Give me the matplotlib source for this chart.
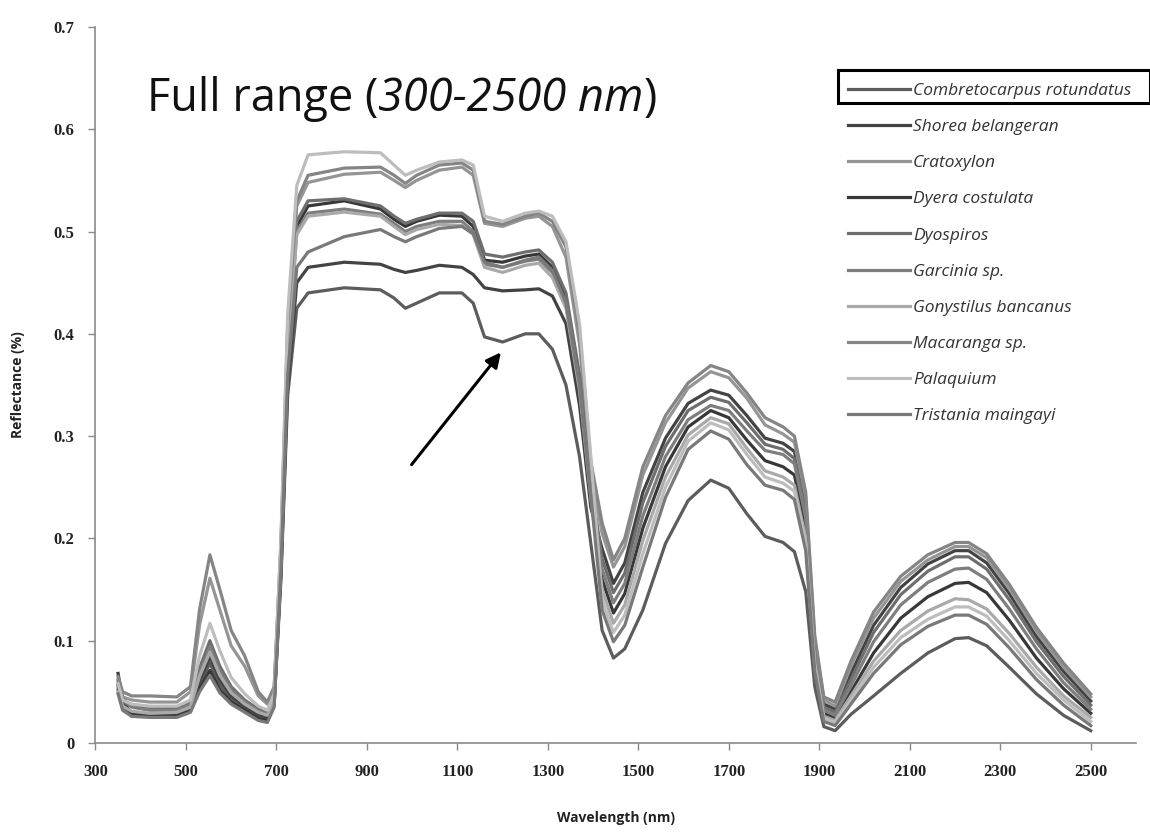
import matplotlib
matplotlib.use("Agg")
import matplotlib.pyplot as plt
from matplotlib.patches import Rectangle
from matplotlib.offsetbox import TextArea, HPacker, AnnotationBbox

# wavelength grid (nm) shared by all spectra
wavelength = [350, 360, 380, 420, 480, 510, 530, 553, 575, 600, 630, 660, 680, 695,
              710, 725, 745, 770, 850, 930, 960, 985, 1010, 1060, 1110, 1135, 1160, 1200,
              1250, 1280, 1310, 1340, 1370, 1395,
              1420, 1445, 1470, 1510, 1560, 1610, 1660, 1700, 1740, 1780, 1820, 1845, 1870,
              1890, 1910, 1935, 1970, 2020, 2080, 2140, 2200, 2230, 2270, 2320, 2380, 2440, 2500]

combretocarpus = [0.052, 0.035, 0.029, 0.027, 0.027, 0.032, 0.057, 0.078, 0.057, 0.043, 0.034, 0.026, 0.023, 0.038,
                  0.16, 0.34, 0.425, 0.44, 0.445, 0.443, 0.435, 0.425, 0.43, 0.44, 0.44, 0.43, 0.397, 0.392,
                  0.40, 0.40, 0.385, 0.35, 0.28, 0.195,
                  0.11, 0.083, 0.092, 0.13, 0.195, 0.237, 0.257, 0.249, 0.224, 0.202, 0.196, 0.187, 0.148,
                  0.055, 0.016, 0.012, 0.028, 0.046, 0.068, 0.088, 0.102, 0.103, 0.095, 0.074, 0.048, 0.027, 0.012]
shorea = [0.057, 0.038, 0.03, 0.028, 0.028, 0.033, 0.061, 0.084, 0.062, 0.046, 0.036, 0.028, 0.025, 0.04,
          0.165, 0.35, 0.45, 0.465, 0.47, 0.468, 0.463, 0.46, 0.462, 0.467, 0.465, 0.458, 0.445, 0.442,
          0.443, 0.444, 0.437, 0.41, 0.33, 0.23,
          0.19, 0.156, 0.176, 0.245, 0.298, 0.332, 0.345, 0.34, 0.32, 0.298, 0.293, 0.285, 0.232,
          0.095, 0.038, 0.033, 0.068, 0.115, 0.152, 0.175, 0.188, 0.188, 0.176, 0.146, 0.104, 0.07, 0.041]
cratoxylon = [0.06, 0.045, 0.042, 0.04, 0.04, 0.05, 0.115, 0.161, 0.13, 0.095, 0.075, 0.046, 0.038, 0.052,
              0.19, 0.405, 0.525, 0.548, 0.556, 0.558, 0.55, 0.543, 0.55, 0.56, 0.563, 0.555, 0.508, 0.505,
              0.513, 0.515, 0.505, 0.475, 0.39, 0.268,
              0.205, 0.172, 0.192, 0.262, 0.313, 0.347, 0.363, 0.357, 0.337, 0.311, 0.302, 0.294, 0.24,
              0.1, 0.042, 0.036, 0.075, 0.122, 0.158, 0.179, 0.192, 0.192, 0.181, 0.151, 0.109, 0.074, 0.045]
dyera = [0.068, 0.042, 0.028, 0.026, 0.026, 0.031, 0.053, 0.071, 0.052, 0.04, 0.032, 0.024, 0.022, 0.037,
         0.183, 0.385, 0.505, 0.525, 0.53, 0.522, 0.512, 0.505, 0.51, 0.516, 0.515, 0.505, 0.472, 0.47,
         0.476, 0.478, 0.465, 0.435, 0.355, 0.25,
         0.16, 0.127, 0.146, 0.21, 0.27, 0.309, 0.325, 0.318, 0.296, 0.276, 0.27, 0.262, 0.21,
         0.082, 0.029, 0.024, 0.05, 0.088, 0.122, 0.143, 0.156, 0.157, 0.147, 0.12, 0.083, 0.053, 0.029]
dyospiros = [0.055, 0.04, 0.036, 0.034, 0.034, 0.04, 0.073, 0.10, 0.075, 0.055, 0.042, 0.033, 0.03, 0.045,
             0.185, 0.39, 0.51, 0.53, 0.532, 0.525, 0.515, 0.508, 0.512, 0.518, 0.518, 0.51, 0.478, 0.475,
             0.48, 0.482, 0.47, 0.44, 0.36, 0.255,
             0.18, 0.147, 0.166, 0.235, 0.29, 0.325, 0.338, 0.333, 0.313, 0.292, 0.287, 0.278, 0.226,
             0.09, 0.035, 0.03, 0.062, 0.108, 0.145, 0.168, 0.182, 0.182, 0.17, 0.14, 0.099, 0.065, 0.037]
garcinia = [0.062, 0.044, 0.035, 0.032, 0.032, 0.038, 0.068, 0.094, 0.07, 0.052, 0.04, 0.031, 0.028, 0.043,
            0.18, 0.38, 0.5, 0.518, 0.522, 0.517, 0.508, 0.5, 0.505, 0.51, 0.51, 0.5, 0.468, 0.465,
            0.471, 0.473, 0.46, 0.43, 0.35, 0.245,
            0.17, 0.137, 0.156, 0.222, 0.28, 0.316, 0.33, 0.325, 0.305, 0.286, 0.282, 0.273, 0.22,
            0.087, 0.032, 0.027, 0.056, 0.099, 0.135, 0.157, 0.17, 0.171, 0.16, 0.131, 0.092, 0.059, 0.033]
gonystilus = [0.05, 0.036, 0.031, 0.029, 0.03, 0.035, 0.065, 0.089, 0.066, 0.049, 0.038, 0.03, 0.027, 0.042,
              0.178, 0.378, 0.497, 0.515, 0.519, 0.515, 0.505, 0.497, 0.502, 0.507, 0.506, 0.497, 0.465, 0.46,
              0.467, 0.469, 0.455, 0.425, 0.345, 0.24,
              0.15, 0.117, 0.135, 0.198, 0.26, 0.301, 0.318, 0.312, 0.288, 0.266, 0.26, 0.252, 0.2,
              0.078, 0.026, 0.022, 0.046, 0.08, 0.11, 0.129, 0.141, 0.14, 0.131, 0.107, 0.074, 0.046, 0.025]
macaranga = [0.065, 0.05, 0.046, 0.046, 0.045, 0.055, 0.13, 0.184, 0.15, 0.11, 0.085, 0.05, 0.04, 0.055,
             0.195, 0.41, 0.53, 0.555, 0.562, 0.563, 0.555, 0.547, 0.555, 0.565, 0.567, 0.56, 0.51, 0.507,
             0.515, 0.518, 0.51, 0.485, 0.40, 0.275,
             0.215, 0.179, 0.2, 0.27, 0.32, 0.352, 0.369, 0.363, 0.342, 0.318, 0.309, 0.3, 0.245,
             0.105, 0.045, 0.04, 0.08, 0.128, 0.163, 0.184, 0.196, 0.196, 0.185, 0.155, 0.113, 0.078, 0.048]
palaquium = [0.058, 0.042, 0.038, 0.036, 0.036, 0.042, 0.085, 0.117, 0.09, 0.064, 0.048, 0.036, 0.032, 0.048,
             0.2, 0.42, 0.545, 0.575, 0.578, 0.577, 0.565, 0.555, 0.56, 0.568, 0.57, 0.565, 0.515, 0.51,
             0.518, 0.52, 0.515, 0.49, 0.41, 0.28,
             0.14, 0.108, 0.125, 0.185, 0.25, 0.295, 0.313, 0.306, 0.282, 0.26, 0.254, 0.246, 0.195,
             0.075, 0.024, 0.02, 0.042, 0.074, 0.103, 0.121, 0.133, 0.133, 0.124, 0.1, 0.068, 0.042, 0.021]
tristania = [0.048, 0.032, 0.026, 0.025, 0.025, 0.03, 0.05, 0.066, 0.049, 0.038, 0.03, 0.022, 0.02, 0.035,
             0.17, 0.36, 0.465, 0.48, 0.495, 0.502, 0.495, 0.49, 0.495, 0.503, 0.505, 0.498, 0.47, 0.465,
             0.472, 0.475, 0.462, 0.43, 0.35, 0.242,
             0.13, 0.099, 0.115, 0.172, 0.24, 0.287, 0.305, 0.297, 0.272, 0.252, 0.247, 0.238, 0.188,
             0.07, 0.021, 0.017, 0.038, 0.068, 0.096, 0.114, 0.125, 0.125, 0.116, 0.093, 0.062, 0.037, 0.017]

species = ["Combretocarpus rotundatus", "Shorea belangeran", "Cratoxylon", "Dyera costulata",
           "Dyospiros", "Garcinia sp.", "Gonystilus bancanus", "Macaranga sp.", "Palaquium",
           "Tristania maingayi"]
spectra = [combretocarpus, shorea, cratoxylon, dyera, dyospiros, garcinia, gonystilus,
           macaranga, palaquium, tristania]
colors = ["#5c5c5c", "#434343", "#959595", "#383838", "#6e6e6e", "#7e7e7e", "#a9a9a9",
          "#858585", "#bdbdbd", "#797979"]

y_ticks = [0, 0.1, 0.2, 0.3, 0.4, 0.5, 0.6, 0.7]
y_ticklabels = ["0", "0.1", "0.2", "0.3", "0.4", "0.5", "0.6", "0.7"]
x_ticks = list(range(300, 2501, 200))

fig = plt.figure(figsize=(11.5, 8.32), dpi=100)
ax = fig.add_axes([0.083, 0.107, 0.9048, 0.8606])

for name, vals, c in zip(species, spectra, colors):
    ax.plot(wavelength, vals, color=c, lw=2.3, label=name, solid_joinstyle="round")

ax.set_xlim(300, 2600)
ax.set_ylim(0, 0.7)
ax.set_xticks(x_ticks)
ax.set_yticks(y_ticks)
ax.set_yticklabels(y_ticklabels)
for lab in ax.get_xticklabels() + ax.get_yticklabels():
    lab.set_fontfamily("Liberation Serif")
    lab.set_fontweight("bold")
    lab.set_fontsize(12)
    lab.set_color("#222222")
ax.tick_params(direction="out", length=5, width=1, color="#8a8a8a", pad=10)
for s in ["top", "right"]:
    ax.spines[s].set_visible(False)
for s in ["left", "bottom"]:
    ax.spines[s].set_color("#8a8a8a")
    ax.spines[s].set_linewidth(1.2)

fig.text(616 / 1150, 1 - 818 / 832, "Wavelength (nm)", ha="center", va="center",
         fontfamily="Open Sans", fontweight="bold", fontsize=10, color="#222222")
fig.text(18 / 1150, 1 - 385 / 832, "Reflectance (%)", ha="center", va="center", rotation=90,
         fontfamily="Open Sans", fontweight="bold", fontsize=10, color="#222222")

# title inside the plot, with the range in italics
tprops = dict(fontsize=32.5, family="Open Sans", color="#111111")
title_parts = [TextArea("Full range (", textprops=tprops),
               TextArea("300-2500 nm", textprops=dict(tprops, style="italic")),
               TextArea(")", textprops=tprops)]
title_box = HPacker(children=title_parts, align="baseline", pad=0, sep=0)
fig.add_artist(AnnotationBbox(title_box, (147 / 1150, 1 - 99 / 832), xycoords="figure fraction",
                              box_alignment=(0, 0.5), frameon=False, pad=0))

ax.annotate("", xy=(1200, 0.384), xytext=(995, 0.27),
            arrowprops=dict(arrowstyle="-|>", color="black", lw=2.2, mutation_scale=22))

leg = ax.legend(loc="upper left", bbox_to_anchor=(841 / 1150, 1 - 76 / 832),
                bbox_transform=fig.transFigure, frameon=False,
                prop={"family": "Open Sans", "style": "italic", "size": 12.5},
                handlelength=3.6, handletextpad=0.15, labelspacing=1.15, borderaxespad=0)
for t in leg.get_texts():
    t.set_color("#333333")

fig.patches.append(Rectangle((838 / 1150, 1 - 103 / 832), 312 / 1150, 33 / 832,
                             transform=fig.transFigure, fill=False, ec="black", lw=2.2))

fig.savefig("out.png", dpi=100, facecolor="white")
